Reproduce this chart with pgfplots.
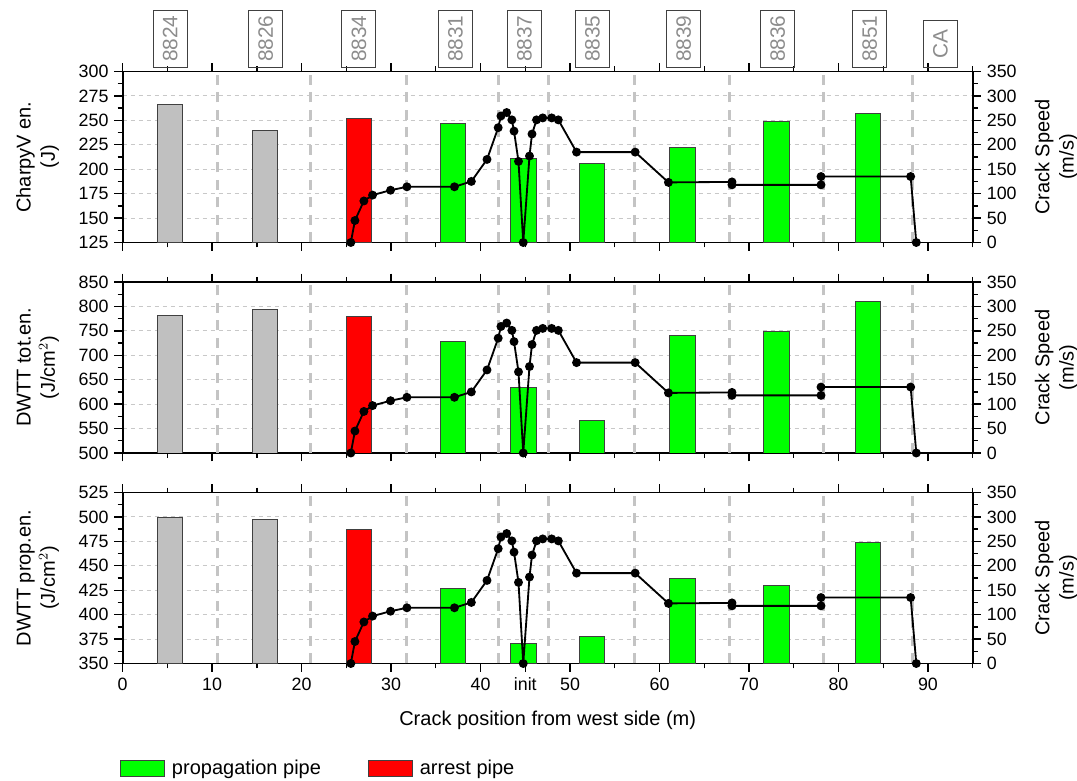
\documentclass[border=0pt]{standalone}
\usepackage{fontspec}
\setmainfont{Liberation Sans}
\usepackage{pgfplots}
\usepackage{pgfplotstable}
\pgfplotsset{compat=1.18}
\definecolor{bargray}{HTML}{C0C0C0}
\definecolor{bargreen}{HTML}{00FF00}
\definecolor{barred}{HTML}{FF0000}
\definecolor{gridgray}{HTML}{C8C8C8}
\definecolor{vgray}{HTML}{C4C4C4}
\definecolor{lblgray}{HTML}{8C8C8C}

\pgfplotstableread{
x charpy dwtttot dwttprop
5.3 266.5 781 499
15.9 239.7 793 497.3
}\graybars
\pgfplotstableread{
x charpy dwtttot dwttprop
26.4 251.6 779 487
}\redbars
\pgfplotstableread{
x charpy dwtttot dwttprop
36.9 246.8 728 426.7
44.8 210.9 635 370.2
52.45 205.7 566 377.7
62.55 222.7 741 437.3
73.05 248.8 749 429.8
83.3 256.6 810 474.3
}\greenbars
\pgfplotstableread{
x v
25.5 0
25.96 45
26.96 85
27.93 97
29.94 107
31.77 114
37.08 114
38.97 125
40.72 170
41.97 235
42.28 259
42.92 266
43.5 251
43.74 228
44.24 166
44.77 0
45.47 177
45.75 222
46.26 251
46.95 255
47.95 255
48.69 251
50.73 185
57.28 185
61.0 123
68.1 124
68.1 118
78.05 118
78.05 135
88.07 135
88.7 0
}\speed
\pgfplotstableread{
x v
10.6 350
21.03 350
31.72 350
41.98 350
47.56 350
57.24 350
67.87 350
78.28 350
88.23 350
}\welds

\tikzset{
  pipelabel/.style={draw=black!75, line width=0.6pt, text=lblgray, rotate=90, anchor=west,
    font=\fontsize{12.5}{15}\selectfont, minimum height=20.4pt, minimum width=28pt, inner xsep=3.2pt},
}

\pgfplotsset{
  common/.style={
    scale only axis, width=510pt, height=102.6pt, anchor=south west,
    xmin=0, xmax=95,
    axis line style={line width=1.1pt},
    every tick/.style={black, line width=0.8pt},
    tick align=outside,
    major tick length=5pt, minor tick length=3pt,
    ticklabel style={font=\fontsize{10.7}{12.5}\selectfont},
    /pgf/number format/assume math mode=true,
    label style={font=\fontsize{12}{14.5}\selectfont, align=center},
    minor y tick num=1,
  },
  panel/.style={
    common,
    xtick={0,10,...,90}, minor xtick={5,15,...,95},
    xticklabels={},
    ymajorgrids,
    major grid style={gridgray, dash pattern=on 2.4pt off 2.4pt, line width=0.6pt},
    ytick pos=left,
    ylabel style={at={(axis description cs:-0.068,0.5)}, anchor=south},
    ybar, bar width=2.83, bar shift=0pt,
  },
  speedax/.style={
    common,
    ymin=0, ymax=350, ytick={0,50,...,350},
    axis x line=none, axis y line*=right,
    ylabel={Crack Speed\\(m/s)},
    ylabel style={at={(axis description cs:1.0664,0.5)}, anchor=north},
    clip mode=individual,
  },
  weld/.style={ycomb, vgray, line width=1.8pt, dash pattern=on 6pt off 4.5pt, mark=none},
  speedline/.style={black, line width=1.1pt, mark=*, mark size=2.1pt, mark options={solid, fill=black}},
  graystyle/.style={fill=bargray, draw=black!75, line width=0.5pt},
  greenstyle/.style={fill=bargreen, draw=black!75, line width=0.5pt},
  redstyle/.style={fill=barred, draw=black!75, line width=0.5pt},
}

\begin{document}
\begin{tikzpicture}
\useasboundingbox (0,0) rectangle (646.2pt,468.6pt);

% ---------- top panel ----------
\begin{axis}[panel, at={(73.6pt,323.1pt)}, ymin=125, ymax=300, ytick={125,150,...,300},
  ylabel={CharpyV en.\\(J)}]
\addplot[graystyle] table[x=x,y=charpy]{\graybars};
\addplot[greenstyle] table[x=x,y=charpy]{\greenbars};
\addplot[redstyle] table[x=x,y=charpy]{\redbars};
\end{axis}
\begin{axis}[speedax, at={(73.6pt,323.1pt)}]
\addplot[weld] table[x=x,y=v]{\welds};
\addplot[speedline] table[x=x,y=v]{\speed};
\node[pipelabel] at (axis cs:5.3,358) {8824};
\node[pipelabel] at (axis cs:16.0,358) {8826};
\node[pipelabel] at (axis cs:26.4,358) {8834};
\node[pipelabel] at (axis cs:37.2,358) {8831};
\node[pipelabel] at (axis cs:44.9,358) {8837};
\node[pipelabel] at (axis cs:52.5,358) {8835};
\node[pipelabel] at (axis cs:62.7,358) {8839};
\node[pipelabel] at (axis cs:73.2,358) {8836};
\node[pipelabel] at (axis cs:83.5,358) {8851};
\node[pipelabel] at (axis cs:91.4,358) {CA};
\end{axis}

% ---------- middle panel ----------
\begin{axis}[panel, at={(73.6pt,196.8pt)}, ymin=500, ymax=850, ytick={500,550,...,850},
  ylabel={DWTT tot.en.\\(J/cm$^2$)}]
\addplot[graystyle] table[x=x,y=dwtttot]{\graybars};
\addplot[greenstyle] table[x=x,y=dwtttot]{\greenbars};
\addplot[redstyle] table[x=x,y=dwtttot]{\redbars};
\end{axis}
\begin{axis}[speedax, at={(73.6pt,196.8pt)}]
\addplot[weld] table[x=x,y=v]{\welds};
\addplot[speedline] table[x=x,y=v]{\speed};
\end{axis}

% ---------- bottom panel ----------
\begin{axis}[panel, at={(73.6pt,70.5pt)}, ymin=350, ymax=525, ytick={350,375,...,525},
  ylabel={DWTT prop.en.\\(J/cm$^2$)},
  xtick={0,10,20,30,40,45,50,60,70,80,90},
  xticklabels={0,10,20,30,40,init,50,60,70,80,90},
  xlabel={Crack position from west side (m)},
  xlabel style={at={(axis description cs:0.5,0)}, anchor=base, yshift=-37.2pt},
  legend columns=2,
  legend style={at={(axis description cs:0,0)}, anchor=north west, xshift=-4.7pt, yshift=-53.5pt,
    draw=none, fill=none, font=\fontsize{12}{14}\selectfont,
    nodes={inner xsep=4.2pt},
    /tikz/every even column/.append style={column sep=24pt}},
  legend image code/.code={\draw[#1] (0pt,-4.8pt) rectangle (26.4pt,4.8pt);},
]
\addplot[graystyle, forget plot] table[x=x,y=dwttprop]{\graybars};
\addplot[greenstyle] table[x=x,y=dwttprop]{\greenbars};
\addlegendentry{propagation pipe}
\addplot[redstyle] table[x=x,y=dwttprop]{\redbars};
\addlegendentry{arrest pipe}
\end{axis}
\begin{axis}[speedax, at={(73.6pt,70.5pt)}]
\addplot[weld] table[x=x,y=v]{\welds};
\addplot[speedline] table[x=x,y=v]{\speed};
\end{axis}
\end{tikzpicture}
\end{document}
